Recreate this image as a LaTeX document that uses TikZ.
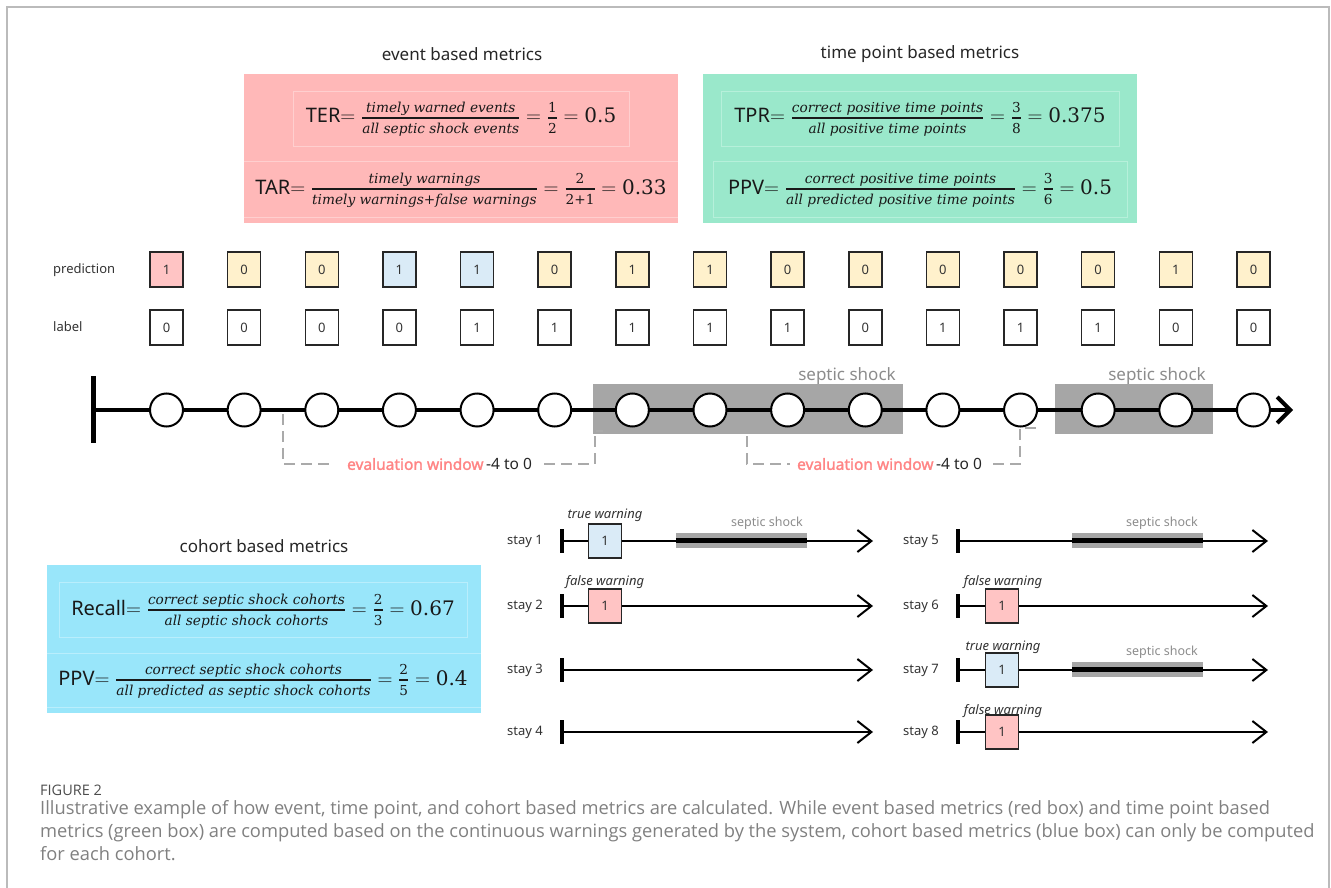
\documentclass[tikz,border=0pt]{standalone}
\usepackage{fontspec}
\setmainfont{Noto Sans}
\newfontfamily\capfont{Open Sans}
\newfontfamily\mfont{DejaVu Serif}
\newfontfamily\evalfont{Noto Sans}[FakeBold=1.6]
\usetikzlibrary{arrows.meta}
\definecolor{redbox}{HTML}{FFB8B8}
\definecolor{redline}{HTML}{FFCFCF}
\definecolor{greenbox}{HTML}{9AE8CB}
\definecolor{greenline}{HTML}{B6F0DA}
\definecolor{bluebox}{HTML}{99E6FA}
\definecolor{blueline}{HTML}{B9EEFC}
\definecolor{predred}{HTML}{FFC4C4}
\definecolor{predyel}{HTML}{FFF1CC}
\definecolor{predblue}{HTML}{DAEBF7}
\definecolor{shockgray}{HTML}{A6A6A6}
\definecolor{txtgray}{HTML}{8C8C8C}
\definecolor{evalred}{HTML}{FF8585}
\definecolor{dashgray}{HTML}{AAAAAA}
\definecolor{capgray}{HTML}{808080}
\definecolor{framegray}{HTML}{BBBBBB}
\newcommand{\ff}{\fontsize{13.7}{13.7}\selectfont\mfont\itshape}
\newcommand{\fn}{\fontsize{13.7}{13.7}\selectfont\mfont}
\newcommand{\nstrut}{\rule[-3pt]{0pt}{1pt}}
\newcommand{\dstrut}{\rule{0pt}{13.5pt}}
\newcommand{\fr}[2]{{\mbox{\ff #1\nstrut}\above1.4pt\mbox{\ff\dstrut #2}}}
\newcommand{\frn}[2]{{\mbox{\fn #1\nstrut}\above1.4pt\mbox{\fn\dstrut #2}}}
\newcommand{\nv}[1]{\mbox{\mfont #1}}
\begin{document}
\begin{tikzpicture}[x=1pt,y=-1pt,
  ttl/.style={font=\fontsize{17}{17}\selectfont, text=black!85, inner sep=0},
  formula/.style={font=\fontsize{20}{20}\selectfont, text=black!90, inner sep=0, anchor=base},
  mbox/.style={inner sep=0, draw=none},
  rowlab/.style={font=\fontsize{13}{13}\selectfont, text=black!80, anchor=west, inner sep=0},
  cell/.style={draw=black!85, line width=1.5pt, minimum width=33pt, minimum height=35pt, font=\fontsize{13}{13}\selectfont, text=black!80, inner sep=0},
  tp/.style={circle, draw=black, line width=2pt, fill=white, minimum size=33pt, inner sep=0},
  shock/.style={fill=shockgray, draw=none, inner sep=0},
  shocklab/.style={font=\fontsize{17}{17}\selectfont, text=txtgray, inner sep=0},
  evaldash/.style={draw=dashgray, line width=2.5pt, dash pattern=on 11pt off 6pt},
  evallab/.style={font=\fontsize{15.5}{15.5}\selectfont, text=black!85, inner sep=0},
  stayline/.style={line width=2pt, -{Straight Barb[length=14pt,width=22pt]}},
  staytick/.style={line width=3.5pt},
  warnlab/.style={font=\fontsize{13}{13}\selectfont\itshape, text=black!80, inner sep=0},
  smallshock/.style={font=\fontsize{12.5}{12.5}\selectfont, text=txtgray, inner sep=0},
  capt/.style={font=\fontsize{18.3}{18.3}\selectfont\capfont, text=capgray, anchor=base west, inner sep=0},
]
\useasboundingbox (0,0) rectangle (1331,888);
\draw[framegray, line width=1.5pt] (7,888) -- (7,7) -- (1329,7) -- (1329,888);

% ---------- event based metrics ----------
\node[ttl] (evt) at (462,54) {event based metrics};
\node[mbox, fill=redbox, minimum width=434pt, minimum height=149pt] (evbox) at (461,148.5) {};
\node[mbox, draw=redline, line width=1pt, minimum width=336pt, minimum height=55pt] (evin) at (461,119.5) {};
\draw[redline, line width=1pt] (evbox.west |- 0,162) -- (evbox.east |- 0,162);
\draw[redline, line width=1pt] (evbox.west |- 0,217) -- (evbox.east |- 0,217);
\node[formula] (ter) at (461,123) {TER$=\fr{timely warned events}{all septic shock events}=\frn{1}{2}=\nv{0.5}$};
\node[formula] (tar) at (461,194) {TAR$=\fr{timely warnings}{timely warnings+false warnings}=\frn{2}{2+1}=\nv{0.33}$};

% ---------- time point based metrics ----------
\node[ttl] (tpt) at (920,54) {time point based metrics};
\node[mbox, fill=greenbox, minimum width=434pt, minimum height=149pt] (tpbox) at (920,148.5) {};
\node[mbox, draw=greenline, line width=1pt, minimum width=398pt, minimum height=55pt] (tpin1) at (920,119.5) {};
\node[mbox, draw=greenline, line width=1pt, minimum width=414pt, minimum height=55pt] (tpin2) at (920,189.5) {};
\node[formula] (tpr) at (920,123) {TPR$=\fr{correct positive time points}{all positive time points}=\frn{3}{8}=\nv{0.375}$};
\node[formula] (ppv) at (920,194) {PPV$=\fr{correct positive time points}{all predicted positive time points}=\frn{3}{6}=\nv{0.5}$};

% ---------- prediction / label rows ----------
\node[rowlab] (predlab) at (53,270) {prediction};
\node[rowlab] (lablab) at (53,327) {label};
\foreach \v/\c [count=\i from 0] in {1/predred,0/predyel,0/predyel,1/predblue,1/predblue,0/predyel,1/predyel,1/predyel,0/predyel,0/predyel,0/predyel,0/predyel,0/predyel,1/predyel,0/predyel}
  \node[cell, fill=\c] (p\i) at ({166.5+77.64*\i},269.5) {\v};
\foreach \v [count=\i from 0] in {0,0,0,0,1,1,1,1,1,0,1,1,1,0,0}
  \node[cell, fill=white] (l\i) at ({166.5+77.64*\i},327.5) {\v};

% ---------- timeline ----------
\node[shock, minimum width=310pt, minimum height=50pt] (sh1) at (748,409) {};
\node[shock, minimum width=158pt, minimum height=50pt] (sh2) at (1134,409) {};
\node[shocklab] (shl1) at (847,376) {septic shock};
\node[shocklab] (shl2) at (1157,376) {septic shock};
\coordinate (t0) at (93,410);
\coordinate (tend) at (1293,410);
\draw[line width=4.5pt, -{Straight Barb[length=13pt,width=26pt,line width=4pt]}] (t0) -- (tend);
\draw[line width=5pt] (93,376) -- (93,443);
\foreach \i in {0,...,14}
  \node[tp] (c\i) at ({166.5+77.64*\i},410) {};

% evaluation windows
\node[evallab] (ew1) at (439.5,464) {\textcolor{evalred}{\evalfont evaluation window}\,-4 to 0};
\coordinate (b1s) at (283,414);
\coordinate (b1e) at (595,431);
\draw[evaldash] (b1s) |- ([xshift=-12pt]ew1.west);
\draw[evaldash] ([xshift=12pt]ew1.east) -| (b1e) -- ++(8,0);
\node[evallab] (ew2) at (889.5,464) {\textcolor{evalred}{\evalfont evaluation window}\,-4 to 0};
\coordinate (b2s) at (747,436);
\coordinate (b2e) at (1020,428);
\draw[evaldash] (b2s) |- ([xshift=-7pt]ew2.west);
\draw[evaldash] ([xshift=11pt]ew2.east) -| (b2e) -- ++(22,0);

% ---------- cohort based metrics ----------
\node[ttl] (cht) at (264,546) {cohort based metrics};
\node[mbox, fill=bluebox, minimum width=434pt, minimum height=148pt] (chbox) at (264,639) {};
\node[mbox, draw=blueline, line width=1pt, minimum width=408pt, minimum height=55pt] (chin) at (263,609.5) {};
\draw[blueline, line width=1pt] (chbox.west |- 0,653) -- (chbox.east |- 0,653);
\draw[blueline, line width=1pt] (chbox.west |- 0,707) -- (chbox.east |- 0,707);
\node[formula] (rec) at (263,615) {Recall$=\fr{correct septic shock cohorts}{all septic shock cohorts}=\frn{2}{3}=\nv{0.67}$};
\node[formula] (cppv) at (263,685) {PPV$=\fr{correct septic shock cohorts}{all predicted as septic shock cohorts}=\frn{2}{5}=\nv{0.4}$};

% ---------- stays ----------
\node[shock, minimum width=131pt, minimum height=15pt] (sb1) at (741.5,540.5) {};
\node[shock, minimum width=131pt, minimum height=15pt] (sb5) at (1137.5,540.5) {};
\node[shock, minimum width=131pt, minimum height=15pt] (sb7) at (1137.5,669.5) {};
\node[smallshock] (sl1) at (767,523) {septic shock};
\node[smallshock] (sl5) at (1162,523) {septic shock};
\node[smallshock] (sl7) at (1162,652) {septic shock};

\foreach \n/\x/\y/\xe in {1/562/541/873, 2/562/606/873, 3/562/670/873, 4/562/732/873,
                          5/958/541/1268, 6/958/606/1268, 7/958/670/1268, 8/958/732/1268} {
  \coordinate (s\n a) at (\x,\y);
  \coordinate (s\n b) at (\xe,\y);
  \draw[stayline] (s\n a) -- (s\n b);
  \draw[staytick] ([yshift=12pt]s\n a) -- ([yshift=-12pt]s\n a);
  \node[rowlab] (st\n) at ({\x-55},\y) {stay \n};
}
\draw[line width=4.5pt] (sb1.west) -- (sb1.east);
\draw[line width=4.5pt] (sb5.west) -- (sb5.east);
\draw[line width=4.5pt] (sb7.west) -- (sb7.east);

\node[cell, fill=predblue, minimum width=33pt, minimum height=34pt] (w1) at (605,541) {1};
\node[warnlab] (wl1) at (605,515) {true warning};
\node[cell, fill=predred, minimum width=33pt, minimum height=34pt] (w2) at (605,606) {1};
\node[warnlab] (wl2) at (605,582) {false warning};
\node[cell, fill=predred, minimum width=33pt, minimum height=34pt] (w6) at (1002,606) {1};
\node[warnlab] (wl6) at (1003,582) {false warning};
\node[cell, fill=predblue, minimum width=33pt, minimum height=34pt] (w7) at (1002,670) {1};
\node[warnlab] (wl7) at (1003,647) {true warning};
\node[cell, fill=predred, minimum width=33pt, minimum height=34pt] (w8) at (1002,732) {1};
\node[warnlab] (wl8) at (1003,711) {false warning};

% ---------- caption ----------
\node[anchor=base west, inner sep=0, font=\fontsize{14.5}{14.5}\selectfont\capfont, text=black!70] (fig) at (40,795) {FIGURE 2};
\node[capt] (cap1) at (40,814) {Illustrative example of how event, time point, and cohort based metrics are calculated. While event based metrics (red box) and time point based};
\node[capt] (cap2) at (40,837) {metrics (green box) are computed based on the continuous warnings generated by the system, cohort based metrics (blue box) can only be computed};
\node[capt] (cap3) at (40,860) {for each cohort.};
\end{tikzpicture}
\end{document}
